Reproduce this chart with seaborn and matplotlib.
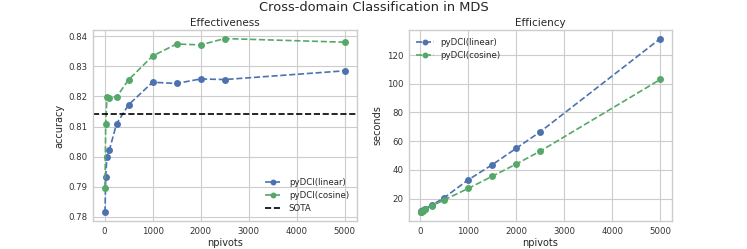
import matplotlib
matplotlib.use("Agg")
import matplotlib.pyplot as plt
import seaborn as sns
import pandas as pd

npivots = [10, 25, 50, 100, 250, 500, 1000, 1500, 2000, 2500, 5000]
acc_linear = [0.7815, 0.7933, 0.7998, 0.8021, 0.8109, 0.8172, 0.8247, 0.8243, 0.8258, 0.8256, 0.8285]
acc_cosine = [0.7897, 0.8108, 0.8197, 0.8195, 0.8198, 0.8255, 0.8334, 0.8374, 0.8371, 0.8392, 0.8380]
sota = 0.814
sec_linear = [10.5, 11.2, 12.0, 13.0, 15.5, 20.5, 33.0, 43.5, 55.0, 66.5, 131.5]
sec_cosine = [10.3, 10.8, 11.5, 12.5, 15.0, 19.0, 27.0, 35.5, 44.0, 53.0, 103.0]
series = ["pyDCI(linear)", "pyDCI(cosine)"]

sns.set_theme(style="whitegrid", context="paper")
plt.rcParams["font.family"] = ["DejaVu Sans"]
plt.rcParams["axes.edgecolor"] = "#cccccc"

blue, green = sns.color_palette("deep")[0], sns.color_palette("deep")[2]

df_acc = pd.DataFrame({
    "npivots": npivots * 2,
    "accuracy": acc_linear + acc_cosine,
    "method": [series[0]] * len(npivots) + [series[1]] * len(npivots),
})
df_sec = pd.DataFrame({
    "npivots": npivots * 2,
    "seconds": sec_linear + sec_cosine,
    "method": [series[0]] * len(npivots) + [series[1]] * len(npivots),
})

fig, (ax1, ax2) = plt.subplots(1, 2, figsize=(7.47, 2.49), dpi=100)
fig.subplots_adjust(left=0.1245, right=0.9, top=0.88, bottom=0.112, wspace=0.197)

for name, col in zip(series, [blue, green]):
    d = df_acc[df_acc.method == name]
    sns.lineplot(data=d, x="npivots", y="accuracy", ax=ax1, color=col,
                 marker="o", linestyle="--", markersize=5, markeredgewidth=0,
                 label=name, linewidth=1.2)
    d = df_sec[df_sec.method == name]
    sns.lineplot(data=d, x="npivots", y="seconds", ax=ax2, color=col,
                 marker="o", linestyle="--", markersize=5, markeredgewidth=0,
                 label=name, linewidth=1.2)
ax1.axhline(sota, color="black", linestyle="--", linewidth=1.2, label="SOTA")

ax1.set_title("Effectiveness", fontsize=7.5, pad=3)
ax2.set_title("Efficiency", fontsize=7.5, pad=3)
ax1.set_ylabel("accuracy", fontsize=7, labelpad=3)
ax2.set_ylabel("seconds", fontsize=7, labelpad=3)
for ax in (ax1, ax2):
    ax.set_xlabel("npivots", fontsize=7, labelpad=2)
    ax.tick_params(labelsize=6.2, pad=1.5, length=2.5, width=0.8,
                   color="#cccccc", labelcolor="#333333")
    ax.set_xticks([0, 1000, 2000, 3000, 4000, 5000])
ax1.legend(loc="lower right", fontsize=6.2, frameon=False, markerscale=0.85)
ax2.legend(loc="upper left", fontsize=6.2, frameon=False, markerscale=0.85)
fig.suptitle("Cross-domain Classification in MDS", fontsize=9.4, y=0.995)
fig.savefig("out.png", dpi=100)
